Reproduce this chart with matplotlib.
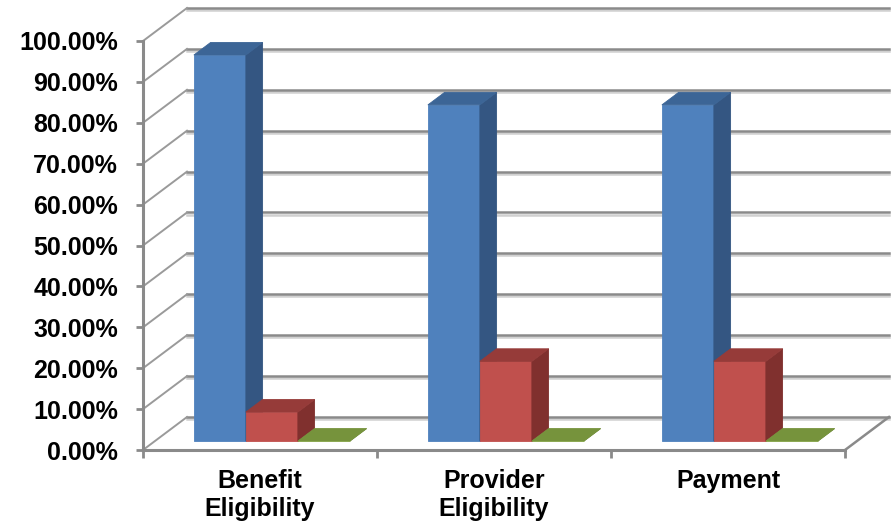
import matplotlib.pyplot as plt
import matplotlib.patheffects as pe
from matplotlib.patches import Polygon
from matplotlib.ticker import FuncFormatter

# categories and the three series (percent)
categories = ["Benefit\nEligibility", "Provider\nEligibility", "Payment"]
series_a = [94.4, 82.2, 82.2]
series_b = [7.1, 19.5, 19.5]
series_c = [0.0, 0.0, 0.0]
y_ticks = [0, 10, 20, 30, 40, 50, 60, 70, 80, 90, 100]

# face colours: front, side, top
colours = [
    ("#4f81bd", "#345682", "#3c6596"),
    ("#c0504d", "#80302e", "#963b39"),
    ("#9bbb59", "#5f7a2c", "#76933c"),
]

# oblique depth offset of the back wall, in data units
DX, DY = 0.188, 8.07
D0, D1 = 0.27, 0.65
BAR_W = 0.2222
GRID = "#8a8a8a"


def off(d):
    return DX * d, DY * d


fig = plt.figure(figsize=(8.94, 5.27), dpi=100)
ax = fig.add_axes([143 / 894, 1 - 450 / 527, (845 - 143) / 894, (450 - 41) / 527])
ax.set_xlim(0, 3)
ax.set_ylim(0, 100)
ax.set_facecolor("none")

shadow = [pe.SimpleLineShadow(offset=(0, -1.5), shadow_color="#d0d0d0", alpha=1), pe.Normal()]

# back wall gridlines and left wall diagonals
bx, by = off(1)
for v in y_ticks:
    ax.plot([bx, 3 + bx], [v + by, v + by], color=GRID, lw=1.8, clip_on=False,
            path_effects=shadow, zorder=1)
    ax.plot([0, bx], [v, v + by], color="#9a9a9a", lw=1.4, clip_on=False, zorder=1)
# floor right edge
ax.plot([3, 3 + bx], [0, by], color=GRID, lw=1.8, clip_on=False, zorder=1)

# bars
for i in range(len(categories)):
    vals = [series_a[i], series_b[i], series_c[i]]
    for j, v in enumerate(vals):
        x0 = i + 0.5 - 1.5 * BAR_W + j * BAR_W
        x1 = x0 + BAR_W
        ox0, oy0 = off(D0)
        ox1, oy1 = off(D1)
        front, side, top = colours[j]
        faces = [
            ([(x0 + ox0, oy0), (x1 + ox0, oy0), (x1 + ox0, v + oy0), (x0 + ox0, v + oy0)], front),
            ([(x1 + ox0, oy0), (x1 + ox1, oy1), (x1 + ox1, v + oy1), (x1 + ox0, v + oy0)], side),
            ([(x0 + ox0, v + oy0), (x1 + ox0, v + oy0), (x1 + ox1, v + oy1), (x0 + ox1, v + oy1)], top),
        ]
        for pts, c in faces:
            ax.add_patch(Polygon(pts, closed=True, facecolor=c, edgecolor=c, lw=0.6,
                                 clip_on=False, zorder=3))

# axes lines and ticks
for s in ["top", "right"]:
    ax.spines[s].set_visible(False)
for s in ["left", "bottom"]:
    ax.spines[s].set_color(GRID)
    ax.spines[s].set_linewidth(2.2)
    ax.spines[s].set_zorder(4)

font = dict(family="Liberation Sans", weight="bold", size=18)

ax.set_yticks(y_ticks)
ax.yaxis.set_major_formatter(FuncFormatter(lambda v, p: f"{v:.2f}%"))
ax.tick_params(axis="y", length=5, width=2, color=GRID, pad=13)

ax.set_xticks([0, 1, 2, 3])
ax.set_xticklabels([])
ax.set_xticks([0.5, 1.5, 2.5], minor=True)
ax.set_xticklabels(categories, minor=True, linespacing=1.2, **font)
ax.tick_params(axis="x", which="major", length=6, width=2, color=GRID)
ax.tick_params(axis="x", which="minor", length=0, pad=14)

for lab in ax.get_yticklabels():
    lab.set_family("Liberation Sans")
    lab.set_weight("bold")
    lab.set_size(18)

fig.savefig("out.png", dpi=100)
